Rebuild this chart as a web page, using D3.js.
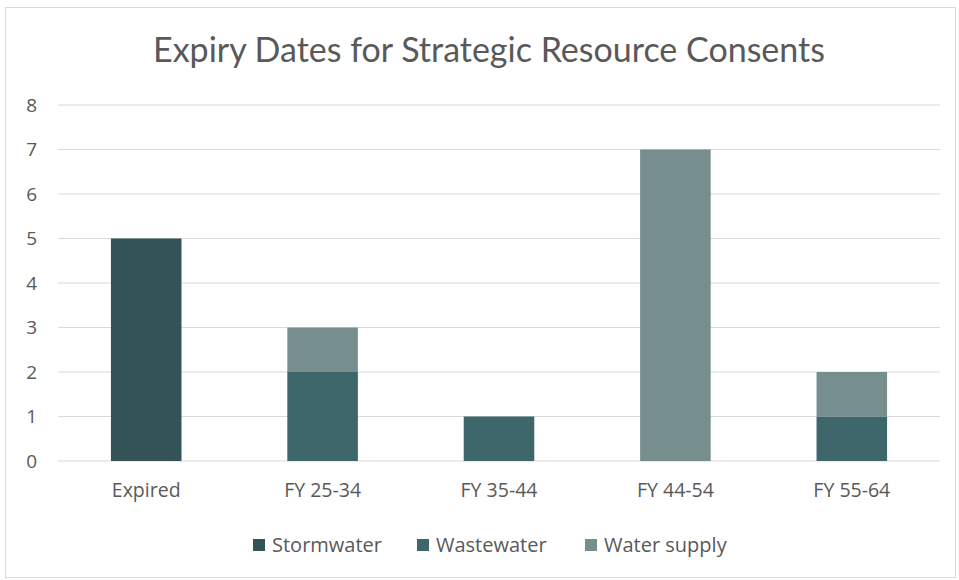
<!DOCTYPE html>
<html>
<head>
<meta charset="utf-8">
<script src="https://cdn.jsdelivr.net/npm/d3@7"></script>
<style>
  body { margin: 0; background: #fff; }
  svg { font-family: "Open Sans", Lato, sans-serif; }
</style>
</head>
<body>
<svg width="959" height="580"></svg>
<script>
var categories = ["Expired", "FY 25-34", "FY 35-44", "FY 44-54", "FY 55-64"];
var seriesNames = ["Stormwater", "Wastewater", "Water supply"];
var stormwater = [5, 0, 0, 0, 0];
var wastewater = [0, 2, 1, 0, 1];
var waterSupply = [0, 1, 0, 7, 1];
var yTicks = [0, 1, 2, 3, 4, 5, 6, 7, 8];
var colors = ["#335357", "#3e676b", "#778e8e"];

var svg = d3.select("svg"),
    margin = {top: 105, right: 19, bottom: 119, left: 58},
    width = +svg.attr("width") - margin.left - margin.right,
    height = +svg.attr("height") - margin.top - margin.bottom;

// chart frame
svg.append("rect")
    .attr("x", 5.5).attr("y", 7.5)
    .attr("width", 950).attr("height", 570)
    .attr("fill", "#fff").attr("stroke", "#d9d9d9");

svg.append("text")
    .attr("x", 489).attr("y", 62)
    .attr("text-anchor", "middle")
    .attr("font-family", "Lato, sans-serif")
    .attr("font-size", 34)
    .attr("fill", "#595959")
    .text("Expiry Dates for Strategic Resource Consents");

var g = svg.append("g").attr("transform", "translate(" + margin.left + "," + margin.top + ")");

var table = categories.map(function (c, i) {
    return {cat: c, "Stormwater": stormwater[i], "Wastewater": wastewater[i], "Water supply": waterSupply[i]};
});
var stacked = d3.stack().keys(seriesNames)(table);

var x = d3.scaleBand().domain(categories).range([0, width]).paddingInner(0.6).paddingOuter(0.3);
var y = d3.scaleLinear().domain([0, 8]).range([height, 0]);

g.append("g")
    .selectAll("line")
    .data(yTicks)
    .enter().append("line")
    .attr("x1", 0).attr("x2", width)
    .attr("y1", function (d) { return y(d); })
    .attr("y2", function (d) { return y(d); })
    .attr("stroke", "#d9d9d9")
    .attr("stroke-width", 1.2);

var yAxis = g.append("g")
    .call(d3.axisLeft(y).tickValues(yTicks).tickSize(0).tickPadding(21));
yAxis.select(".domain").remove();
yAxis.selectAll("text").attr("font-size", 19).attr("fill", "#595959")
    .attr("font-family", "'Open Sans', sans-serif");

var xAxis = g.append("g")
    .attr("transform", "translate(0," + height + ")")
    .call(d3.axisBottom(x).tickSize(0).tickPadding(22));
xAxis.select(".domain").remove();
xAxis.selectAll("text").attr("font-size", 19.5).attr("fill", "#595959")
    .attr("font-family", "'Open Sans', sans-serif");

g.append("g")
    .selectAll("g")
    .data(stacked)
    .enter().append("g")
    .attr("fill", function (d, i) { return colors[i]; })
    .selectAll("rect")
    .data(function (d) { return d.filter(function (p) { return p[1] > p[0]; }); })
    .enter().append("rect")
    .attr("x", function (d) { return x(d.data.cat); })
    .attr("y", function (d) { return y(d[1]); })
    .attr("height", function (d) { return y(d[0]) - y(d[1]); })
    .attr("width", x.bandwidth());

// legend
var legendX = [253, 417, 585];
var legend = svg.append("g").selectAll("g")
    .data(seriesNames)
    .enter().append("g")
    .attr("transform", function (d, i) { return "translate(" + legendX[i] + ",539)"; });
legend.append("rect")
    .attr("width", 12).attr("height", 12)
    .attr("fill", function (d, i) { return colors[i]; });
legend.append("text")
    .attr("x", 19).attr("y", 12.5)
    .attr("font-size", 20).attr("fill", "#595959")
    .text(function (d) { return d; });
</script>
</body>
</html>
